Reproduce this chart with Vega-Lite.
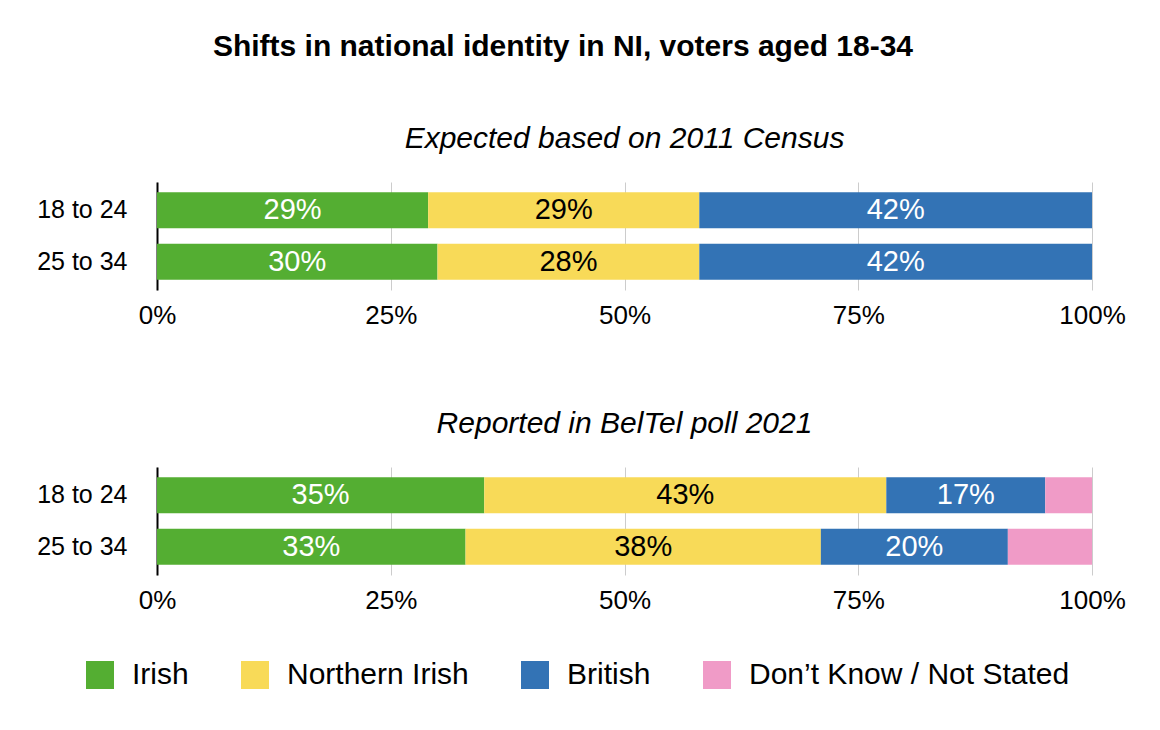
{
  "$schema": "https://vega.github.io/schema/vega-lite/v6.json",
  "padding": {"left": 36, "top": 32, "right": 10, "bottom": 10},
  "background": "white",
  "title": {
    "text": "Shifts in national identity in NI, voters aged 18-34",
    "fontSize": 30,
    "fontWeight": "bold",
    "fontStyle": "normal",
    "anchor": "middle",
    "dx": -18,
    "offset": 62,
    "color": "black"
  },
  "data": {
    "values": [
      {"panel": "Expected based on 2011 Census", "age": "18 to 24", "identity": "Irish", "value": 0.29},
      {"panel": "Expected based on 2011 Census", "age": "18 to 24", "identity": "Northern Irish", "value": 0.29},
      {"panel": "Expected based on 2011 Census", "age": "18 to 24", "identity": "British", "value": 0.42},
      {"panel": "Expected based on 2011 Census", "age": "25 to 34", "identity": "Irish", "value": 0.30},
      {"panel": "Expected based on 2011 Census", "age": "25 to 34", "identity": "Northern Irish", "value": 0.28},
      {"panel": "Expected based on 2011 Census", "age": "25 to 34", "identity": "British", "value": 0.42},
      {"panel": "Reported in BelTel poll 2021", "age": "18 to 24", "identity": "Irish", "value": 0.35},
      {"panel": "Reported in BelTel poll 2021", "age": "18 to 24", "identity": "Northern Irish", "value": 0.43},
      {"panel": "Reported in BelTel poll 2021", "age": "18 to 24", "identity": "British", "value": 0.17},
      {"panel": "Reported in BelTel poll 2021", "age": "18 to 24", "identity": "Don’t Know / Not Stated", "value": 0.05},
      {"panel": "Reported in BelTel poll 2021", "age": "25 to 34", "identity": "Irish", "value": 0.33},
      {"panel": "Reported in BelTel poll 2021", "age": "25 to 34", "identity": "Northern Irish", "value": 0.38},
      {"panel": "Reported in BelTel poll 2021", "age": "25 to 34", "identity": "British", "value": 0.20},
      {"panel": "Reported in BelTel poll 2021", "age": "25 to 34", "identity": "Don’t Know / Not Stated", "value": 0.09}
    ]
  },
  "spacing": 81,
  "vconcat": [
    {
      "title": {"text": "Expected based on 2011 Census"},
      "width": 935,
      "height": 108,
      "transform": [
        {"filter": "datum.panel === 'Expected based on 2011 Census'"},
        {"calculate": "indexof(['Irish', 'Northern Irish', 'British', 'Don’t Know / Not Stated'], datum.identity)", "as": "rank"}
      ],
      "encoding": {
        "y": {"field": "age", "type": "nominal", "title": null,
              "scale": {"paddingInner": 0.3, "paddingOuter": 0.2}}
      },
      "layer": [
        {
          "mark": {"type": "bar"},
          "encoding": {
            "x": {"field": "value", "type": "quantitative", "stack": "zero", "title": null,
                  "scale": {"domain": [0, 1]},
                  "axis": {"values": [0, 0.25, 0.5, 0.75, 1], "format": ".0%"}},
            "order": {"field": "rank", "type": "quantitative"},
            "color": {"field": "identity", "type": "nominal",
                      "sort": ["Irish", "Northern Irish", "British", "Don’t Know / Not Stated"],
                      "scale": {"domain": ["Irish", "Northern Irish", "British", "Don’t Know / Not Stated"],
                                "range": ["#54AE32", "#F8DA58", "#3373B5", "#F09BC7"]},
                      "title": null}
          }
        },
        {
          "transform": [{"filter": "datum.identity !== 'Don’t Know / Not Stated'"}],
          "mark": {"type": "text", "fontSize": 29, "baseline": "middle"},
          "encoding": {
            "x": {"field": "value", "type": "quantitative", "stack": "zero", "bandPosition": 0.5},
            "order": {"field": "rank", "type": "quantitative"},
            "detail": {"field": "identity"},
            "text": {"field": "value", "type": "quantitative", "format": ".0%"},
            "color": {"condition": {"test": "datum.identity === 'Northern Irish'", "value": "black"}, "value": "white"}
          }
        }
      ]
    },
    {
      "title": {"text": "Reported in BelTel poll 2021"},
      "width": 935,
      "height": 108,
      "transform": [
        {"filter": "datum.panel === 'Reported in BelTel poll 2021'"},
        {"calculate": "indexof(['Irish', 'Northern Irish', 'British', 'Don’t Know / Not Stated'], datum.identity)", "as": "rank"}
      ],
      "encoding": {
        "y": {"field": "age", "type": "nominal", "title": null,
              "scale": {"paddingInner": 0.3, "paddingOuter": 0.2}}
      },
      "layer": [
        {
          "mark": {"type": "bar"},
          "encoding": {
            "x": {"field": "value", "type": "quantitative", "stack": "zero", "title": null,
                  "scale": {"domain": [0, 1]},
                  "axis": {"values": [0, 0.25, 0.5, 0.75, 1], "format": ".0%"}},
            "order": {"field": "rank", "type": "quantitative"},
            "color": {"field": "identity", "type": "nominal",
                      "sort": ["Irish", "Northern Irish", "British", "Don’t Know / Not Stated"],
                      "scale": {"domain": ["Irish", "Northern Irish", "British", "Don’t Know / Not Stated"],
                                "range": ["#54AE32", "#F8DA58", "#3373B5", "#F09BC7"]},
                      "title": null}
          }
        },
        {
          "transform": [{"filter": "datum.identity !== 'Don’t Know / Not Stated'"}],
          "mark": {"type": "text", "fontSize": 29, "baseline": "middle"},
          "encoding": {
            "x": {"field": "value", "type": "quantitative", "stack": "zero", "bandPosition": 0.5},
            "order": {"field": "rank", "type": "quantitative"},
            "detail": {"field": "identity"},
            "text": {"field": "value", "type": "quantitative", "format": ".0%"},
            "color": {"condition": {"test": "datum.identity === 'Northern Irish'", "value": "black"}, "value": "white"}
          }
        }
      ]
    }
  ],
  "config": {
    "font": "Liberation Sans",
    "view": {"stroke": null},
    "title": {"fontSize": 30, "fontStyle": "italic", "fontWeight": "normal", "offset": 28, "color": "black", "anchor": "middle"},
    "axisX": {"domain": false, "ticks": false, "grid": true, "gridColor": "#cccccc", "gridWidth": 1,
              "labelFontSize": 26, "labelColor": "black", "labelPadding": 12, "labelFlush": false},
    "axisY": {"domain": true, "domainColor": "black", "domainWidth": 2, "ticks": false, "grid": false,
              "labelFontSize": 25, "labelColor": "black", "labelPadding": 30},
    "legend": {"orient": "none", "legendX": -72, "legendY": 478, "direction": "horizontal", "symbolType": "square", "symbolSize": 784,
               "symbolStrokeWidth": 0, "labelFontSize": 30, "labelColor": "black", "labelOffset": 17,
               "labelLimit": 500, "columnPadding": 51}
  }
}
